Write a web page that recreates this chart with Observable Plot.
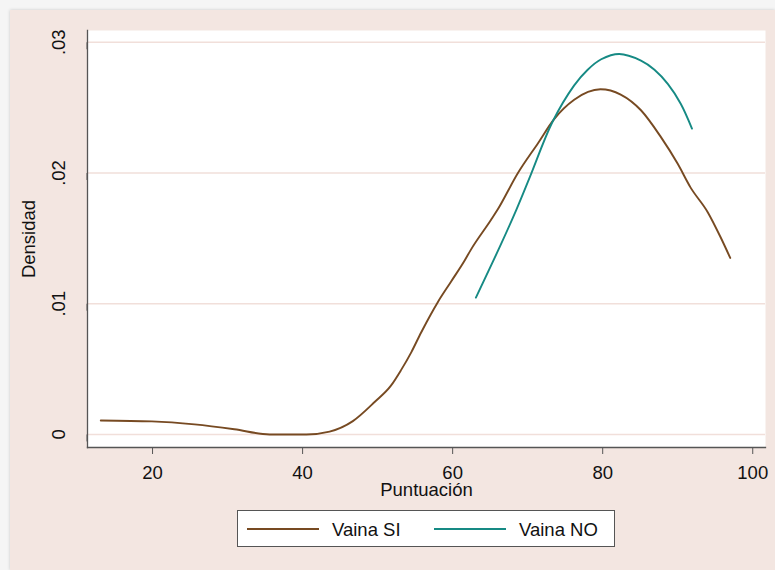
<!DOCTYPE html>
<html>
<head>
<meta charset="utf-8">
<script src="https://cdn.jsdelivr.net/npm/d3@7"></script>
<script src="https://cdn.jsdelivr.net/npm/@observablehq/plot@0.6"></script>
<style>
  html, body { margin: 0; padding: 0; width: 775px; height: 570px; overflow: hidden; background: #f5f5f5; }
  body { font-family: "Liberation Sans", Arial, Helvetica, sans-serif; }
  #panel { position: absolute; left: 10px; top: 10px; width: 765px; height: 560px; background: #F3E6E1; box-shadow: 0 0 3px rgba(0,0,0,0.18); }
  #chart svg { display: block; }
  #legend { position: absolute; left: 227px; top: 500px; width: 376px; height: 35px; background: #fff; border: 1px solid #555; }
  #legend .key { position: absolute; top: 17px; width: 72px; height: 0; border-top: 2px solid; }
  #legend .lab { position: absolute; top: 0; line-height: 37px; font-size: 18.5px; color: #111; white-space: nowrap; }
</style>
</head>
<body>
<div id="panel">
  <div id="chart"></div>
  <div id="legend"></div>
</div>
<script>
// Kernel density estimates of the score, by group
const seriesNames = ["Vaina SI", "Vaina NO"];
const seriesColors = ["#774A22", "#168A84"];

const siScore = [13.1, 19.9, 25.6, 30.9, 35.6, 40.5, 43.6, 46.7, 49.6, 51.8, 53.1, 54.5, 55.8, 57.1, 58.0, 59.8, 61.6, 62.4, 65.1, 66.0, 68.7, 71.4, 73.5, 76.2, 79.7, 82.4, 85.1, 87.7, 90.0, 91.7, 94.0, 95.7, 97.0];
const siDensity = [0.00107, 0.00100, 0.00077, 0.00040, 0.00000, 0.00000, 0.00022, 0.00102, 0.00248, 0.00375, 0.00490, 0.00630, 0.00780, 0.00920, 0.01010, 0.01170, 0.01330, 0.01410, 0.01640, 0.01720, 0.02000, 0.02230, 0.02410, 0.02560, 0.02640, 0.02600, 0.02480, 0.02280, 0.02070, 0.01890, 0.01700, 0.01510, 0.01350];

const noScore = [63.1, 66.4, 68.5, 70.3, 73.3, 76.2, 78.0, 79.8, 82.2, 85.1, 86.9, 88.7, 90.4, 91.9];
const noDensity = [0.01047, 0.01450, 0.01720, 0.01970, 0.02390, 0.02670, 0.02790, 0.02870, 0.02910, 0.02860, 0.02790, 0.02680, 0.02530, 0.02340];

const xTicks = [20, 40, 60, 80, 100];
const yTicks = [0, 0.01, 0.02, 0.03];
const yTickLabels = ["0", ".01", ".02", ".03"];

const xTitle = "Puntuación";
const yTitle = "Densidad";

const siRows = siScore.map((x, i) => ({x, y: siDensity[i], s: seriesNames[0]}));
const noRows = noScore.map((x, i) => ({x, y: noDensity[i], s: seriesNames[1]}));

const fontSize = 18.5;
const axisGray = "#555";

const chart = Plot.plot({
  width: 765,
  height: 490,
  marginLeft: 77,
  marginRight: 10,
  marginTop: 20,
  marginBottom: 53,
  style: {background: "transparent", fontFamily: "'Liberation Sans', Arial, sans-serif", fontSize: fontSize + "px", color: "#111"},
  x: {domain: [11.33, 101.7]},
  y: {domain: [-0.001, 0.0309]},
  color: {domain: seriesNames, range: seriesColors},
  marks: [
    Plot.frame({fill: "white", stroke: null}),
    Plot.ruleY(yTicks, {stroke: "#F1DFDA", strokeWidth: 1.6}),
    Plot.line(siRows, {x: "x", y: "y", stroke: "s", strokeWidth: 1.9, curve: "monotone-x"}),
    Plot.line(noRows, {x: "x", y: "y", stroke: "s", strokeWidth: 1.9, curve: "catmull-rom"}),
    Plot.frame({anchor: "left", stroke: axisGray, strokeWidth: 1.3}),
    Plot.frame({anchor: "bottom", stroke: axisGray, strokeWidth: 1.3}),
    Plot.axisX(xTicks, {
      tickSize: 7, tickPadding: 11, stroke: axisGray, fill: "#111",
      fontSize: fontSize,
      label: xTitle, labelAnchor: "center", labelOffset: 48, labelArrow: "none"
    }),
    Plot.axisY(yTicks, {
      tickSize: 7, tickPadding: 21, stroke: axisGray, fill: "#111",
      fontSize: fontSize,
      tickFormat: (d) => yTickLabels[yTicks.indexOf(d)],
      rotate: -90, textAnchor: "middle",
      label: yTitle, labelAnchor: "center", labelOffset: 66, labelArrow: "none"
    })
  ]
});
document.getElementById("chart").appendChild(chart);

// Legend box below the plot
const legend = document.getElementById("legend");
const keyLeft = [9, 196];
const labLeft = [94, 281];
seriesNames.forEach((name, i) => {
  const k = document.createElement("div");
  k.className = "key";
  k.style.left = keyLeft[i] + "px";
  k.style.borderTopColor = seriesColors[i];
  legend.appendChild(k);
  const t = document.createElement("div");
  t.className = "lab";
  t.style.left = labLeft[i] + "px";
  t.textContent = name;
  legend.appendChild(t);
});
</script>
</body>
</html>
